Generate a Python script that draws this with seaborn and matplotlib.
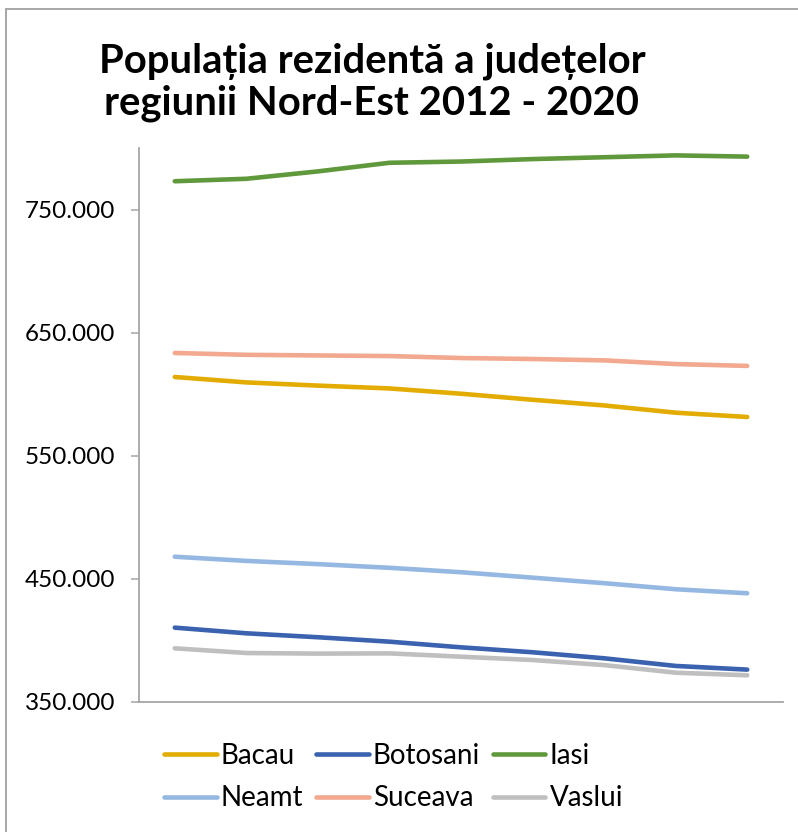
import numpy as np
import pandas as pd
import matplotlib
matplotlib.use("Agg")
import matplotlib.pyplot as plt
import seaborn as sns
from matplotlib.patches import Rectangle
from matplotlib.lines import Line2D
from matplotlib.ticker import FuncFormatter, FixedLocator

years = [2012, 2013, 2014, 2015, 2016, 2017, 2018, 2019, 2020]
bacau = [614000, 609600, 607000, 604700, 600400, 595500, 590900, 585000, 581500]
botosani = [410400, 405800, 402600, 399000, 394400, 390400, 385500, 379300, 376300]
iasi = [773000, 775000, 781000, 788000, 789000, 791000, 792500, 794000, 793000]
neamt = [468000, 464600, 462000, 459000, 455400, 451000, 446500, 441600, 438300]
suceava = [633500, 632000, 631500, 631000, 629400, 628600, 627500, 624500, 623000]
vaslui = [393600, 389800, 389300, 389500, 386800, 384100, 380000, 373800, 371700]

series_names = ["Bacau", "Botosani", "Iasi", "Neamt", "Suceava", "Vaslui"]
series_vals = [bacau, botosani, iasi, neamt, suceava, vaslui]
colors = ["#E3AC02", "#3A62AE", "#5F993C", "#94B8E1", "#F2A98F", "#BFBFBF"]
yticks = [350000, 450000, 550000, 650000, 750000]

rows = []
for name, vals in zip(series_names, series_vals):
    for i, (yr, v) in enumerate(zip(years, vals)):
        rows.append({"idx": i, "An": yr, "Judet": name, "Populatie": v})
df = pd.DataFrame(rows)

sns.set_theme(style="white")
plt.rcParams['font.family'] = ['Lato', 'DejaVu Sans']
plt.rcParams['text.color'] = 'black'

fig = plt.figure(figsize=(7.98, 8.32), dpi=100)
ax = fig.add_axes([139/798, 1-702/832, (783-139)/798, (702-148)/832])

sns.lineplot(data=df, x="idx", y="Populatie", hue="Judet", palette=colors,
             hue_order=series_names, linewidth=3.3, ax=ax, legend=False,
             solid_capstyle="round")

ax.set_xlim(-0.5, len(years) - 0.5)
ax.set_ylim(350000, 800000)
ax.yaxis.set_major_locator(FixedLocator(yticks))
ax.yaxis.set_major_formatter(FuncFormatter(lambda v, p: f"{int(v):,}".replace(",", ".")))
ax.set_xticks([])
ax.set_xlabel("")
ax.set_ylabel("")
for s in ["top", "right"]:
    ax.spines[s].set_visible(False)
for s in ["left", "bottom"]:
    ax.spines[s].set_color("#A6A6A6")
    ax.spines[s].set_linewidth(1.3)
ax.tick_params(axis="y", which="major", left=True, length=6, width=1.1,
               color="#A6A6A6", labelsize=17.5, pad=11, labelcolor="#000000")

fig.text(0.466, 1-82/832, "Populația rezidentă a județelor\nregiunii Nord-Est 2012 - 2020",
         ha="center", va="center", fontsize=28.8, fontweight="bold", linespacing=1.15,
         color="black")

# column-major order so rows read Bacau/Botosani/Iasi, Neamt/Suceava/Vaslui
order = [0, 3, 1, 4, 2, 5]
handles = [Line2D([0], [0], color=colors[i], lw=3.3) for i in order]
labels = [series_names[i] for i in order]
leg = fig.legend(handles, labels, ncol=3, loc="center", bbox_to_anchor=(0.493, 1-777/832),
                 frameon=False, fontsize=20, handlelength=1.9, handletextpad=0.15,
                 columnspacing=0.45, labelspacing=0.6)
for t in leg.get_texts():
    t.set_color("black")

fig.add_artist(Rectangle((6/798, -0.1), 1.2, 1 - 9/832 + 0.1, transform=fig.transFigure,
                         fill=False, edgecolor="#A0A0A0", linewidth=1.3))

fig.savefig("out.png", dpi=100)
